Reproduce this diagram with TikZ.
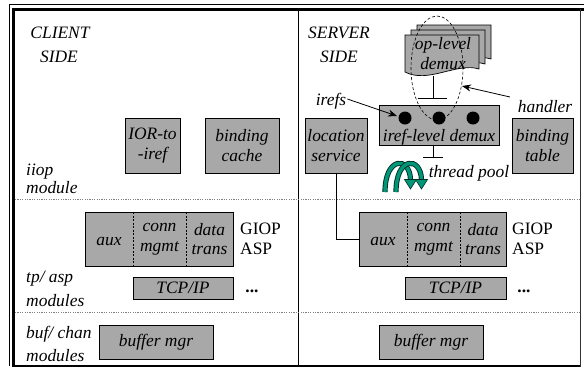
\documentclass[tikz,border=0pt]{standalone}
\usepackage{fontspec}
\setmainfont{Liberation Serif}
\usetikzlibrary{arrows.meta,shapes.geometric}
\definecolor{boxgray}{RGB}{168,168,168}
\definecolor{teal2}{RGB}{0,150,120}
\newcommand\myfs{\fontsize{17.5}{20}\selectfont}
\begin{document}
\begin{tikzpicture}[x=1bp,y=-1bp,
  box/.style={draw=black, line width=0.7bp, fill=boxgray, inner sep=0pt, align=center, font=\itshape\myfs},
  txt/.style={inner sep=0pt, font=\itshape\myfs},
  rtxt/.style={inner sep=0pt, font=\myfs, align=left},
  conn/.style={draw=black, line width=0.7bp},
  arr/.style={draw=black, line width=0.8bp, -{Stealth[length=9bp,width=7bp]}},
  divd/.style={draw=black, line width=0.6bp, dashed, dash pattern=on 2bp off 1.5bp},
  sep/.style={draw=gray, line width=0.7bp, dash pattern=on 1.2bp off 1.2bp},
  loop/.style={line width=5.2bp, draw=black!70!teal2},
  loopin/.style={line width=3.4bp, draw=teal2}]
\useasboundingbox (0,0) rectangle (584,369);
% frame
\draw[line width=0.8bp] (9,4) -- (584,4);
\draw[line width=0.8bp] (9,4) -- (9,366);
\draw[line width=2.6bp] (13,9.5) -- (584,9.5);
\draw[line width=2.6bp] (13.5,8) -- (13.5,367);
\draw[line width=1.6bp] (13,366) -- (581,366);
\draw[line width=1.6bp, draw=black!80] (580.5,9) -- (580.5,367);
\draw[line width=1bp] (298,10) -- (298,366);
\draw[sep] (15,199) -- (580,199);
\draw[sep] (15,312) -- (580,312);

% client labels
\node[txt] (cl1) at (60,33) {CLIENT};
\node[txt] (cl2) at (59,57) {SIDE};
\node[txt, anchor=base west] (l1a) at (26,175) {iiop};
\node[txt, anchor=base west] (l1b) at (26,193) {module};
\node[txt, anchor=base west] (l2a) at (26,282) {tp/ asp};
\node[txt, anchor=base west] (l2b) at (26,306) {modules};
\node[txt, anchor=base west] (l3a) at (26,338) {buf/ chan};
\node[txt, anchor=base west] (l3b) at (26,361) {modules};

% client boxes
\node[box, minimum width=55bp, minimum height=55bp] (ior) at (152.5,145.5) {IOR-to\\-iref};
\node[box, minimum width=74bp, minimum height=55bp] (bc) at (242,145.5) {binding\\cache};
\node[box, minimum width=148bp, minimum height=54bp] (laux) at (159,239) {};
\draw[divd] (133,212) -- (133,266);
\draw[divd] (186,212) -- (186,266);
\node[txt] (lauxt) at (109,241) {aux};
\node[txt, align=center] (lconn) at (159.5,239) {conn\\mgmt};
\node[txt, align=center] (ldata) at (209.5,239) {data\\trans};
\node[rtxt, anchor=west] (lgiop) at (240,239) {GIOP\\ASP};
\node[box, minimum width=100bp, minimum height=22bp] (ltcp) at (183,288) {TCP/IP};
\node[rtxt, font=\bfseries\myfs] (ldots) at (252,291) {...};
\node[box, minimum width=114bp, minimum height=34bp] (lbuf) at (156,342) {buffer mgr};

% server labels
\node[txt] (sv1) at (339,33) {SERVER};
\node[txt] (sv2) at (339,57) {SIDE};

% op-level demux stack
\foreach \dx/\dy in {12/-10,6/-5,0/0}{
  \filldraw[fill=boxgray, draw=black, line width=0.7bp, shift={(\dx,\dy)}]
    (405,35) -- (479,35) -- (479,69) .. controls (457,62) and (428,84) .. (405,72) -- cycle;
}
\node[txt, align=center] (op) at (443,54) {op-level\\demux};
\draw[conn] (433,76) -- (433,98);
\draw[conn] (418,98) -- (447,98);

% iref-level demux
\node[box, minimum width=120bp, minimum height=40bp] (iref) at (439,125) {};
\node[txt] (ireft) at (439,137) {iref-level demux};
\fill (405,118) circle (6.5bp) coordinate (c1);
\fill (439,118) circle (6.5bp) coordinate (c2);
\fill (473,118) circle (6.5bp) coordinate (c3);
\coordinate (c1w) at (397,116);
\draw[conn] (433,145) -- (433,157);
\draw[conn] (423,157) -- (443,157);

% ellipse
\draw[dashed, line width=0.6bp, dash pattern=on 3bp off 2bp] (437,68) ellipse (26bp and 52bp);
\coordinate (ellpt) at (462,86);

\node[txt] (irefs) at (331,101) {irefs};
\draw[arr] (irefs.east) ++(1,-2) -- (c1w);
\node[txt] (hand) at (545,107) {handler};
\draw[arr] (510,97) -- (ellpt);

\node[box, minimum width=62bp, minimum height=55bp] (loc) at (336,145.5) {location\\service};
\node[box, minimum width=61bp, minimum height=55bp] (bt) at (542.5,145.5) {binding\\table};

% thread pool
\foreach \ox in {0,11}{
  \draw[loop] (385+\ox,192) .. controls (385+\ox,156) and (410+\ox,156) .. (410.5+\ox,180);
  \draw[loopin] (385+\ox,192) .. controls (385+\ox,156) and (410+\ox,156) .. (410.5+\ox,180);
  \filldraw[fill=teal2, draw=black!70!teal2, line width=0.6bp] (404.5+\ox,179.5) -- (416.5+\ox,179.5) -- (410.5+\ox,189) -- cycle;
}
\node[txt] (tp) at (469,173) {thread pool};

% server lower
\node[box, minimum width=147bp, minimum height=54bp] (raux) at (432.5,239) {};
\draw[divd] (407,212) -- (407,266);
\draw[divd] (460,212) -- (460,266);
\node[txt] (rauxt) at (383,241) {aux};
\node[txt, align=center] (rconn) at (433.5,239) {conn\\mgmt};
\node[txt, align=center] (rdata) at (483,239) {data\\trans};
\node[rtxt, anchor=west] (rgiop) at (512,239) {GIOP\\ASP};
\node[box, minimum width=101bp, minimum height=22bp] (rtcp) at (455.5,288) {TCP/IP};
\node[rtxt, font=\bfseries\myfs] (rdots) at (524,291) {...};
\node[box, minimum width=104bp, minimum height=34bp] (rbuf) at (431,342) {buffer mgr};

\draw[conn] (loc.south) |- (raux.west);
\end{tikzpicture}
\end{document}
